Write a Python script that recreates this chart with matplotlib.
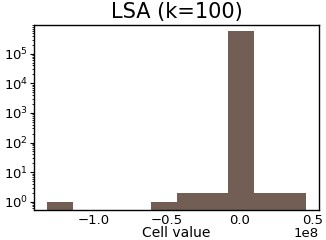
import numpy as np
import matplotlib.pyplot as plt
from matplotlib.ticker import FuncFormatter, NullFormatter

# Histogram (x values in units of 1e8)
bin_edges = np.linspace(-1.322e8, 0.458e8, 11)
counts = [1, 0, 0, 0, 1, 2, 2, 5.6e5, 2, 2]
bin_centers = (bin_edges[:-1] + bin_edges[1:]) / 2
y_ticks = [1, 10, 100, 1e3, 1e4, 1e5]

fig = plt.figure(figsize=(3.26, 2.4), dpi=100)
ax = fig.add_axes([0.104, 0.125, 0.875, 0.771])
ax.hist(bin_centers, bins=bin_edges, weights=counts, log=True, color='#725e54')
ax.set_ylim(0.53, 9.3e5)
ax.set_yticks(y_ticks)
ax.yaxis.set_minor_formatter(NullFormatter())
ax.set_title('LSA (k=100)', fontsize=15, pad=5)
ax.set_xlabel('Cell value', fontsize=10, labelpad=-0.5)
ax.xaxis.set_major_formatter(FuncFormatter(lambda v, p: f'{v / 1e8:.1f}'.replace('-', '\u2212')))
ax.text(1.0, -0.125, '1e8', transform=ax.transAxes, ha='right', va='center', fontsize=9.5)
ax.tick_params(axis='x', length=0, labelsize=9.5, pad=3)
ax.tick_params(axis='y', which='major', length=3, labelsize=9.5, pad=1)
ax.tick_params(axis='y', which='minor', length=1.5)
for s in ax.spines.values():
    s.set_linewidth(1)
plt.savefig('out.png')
